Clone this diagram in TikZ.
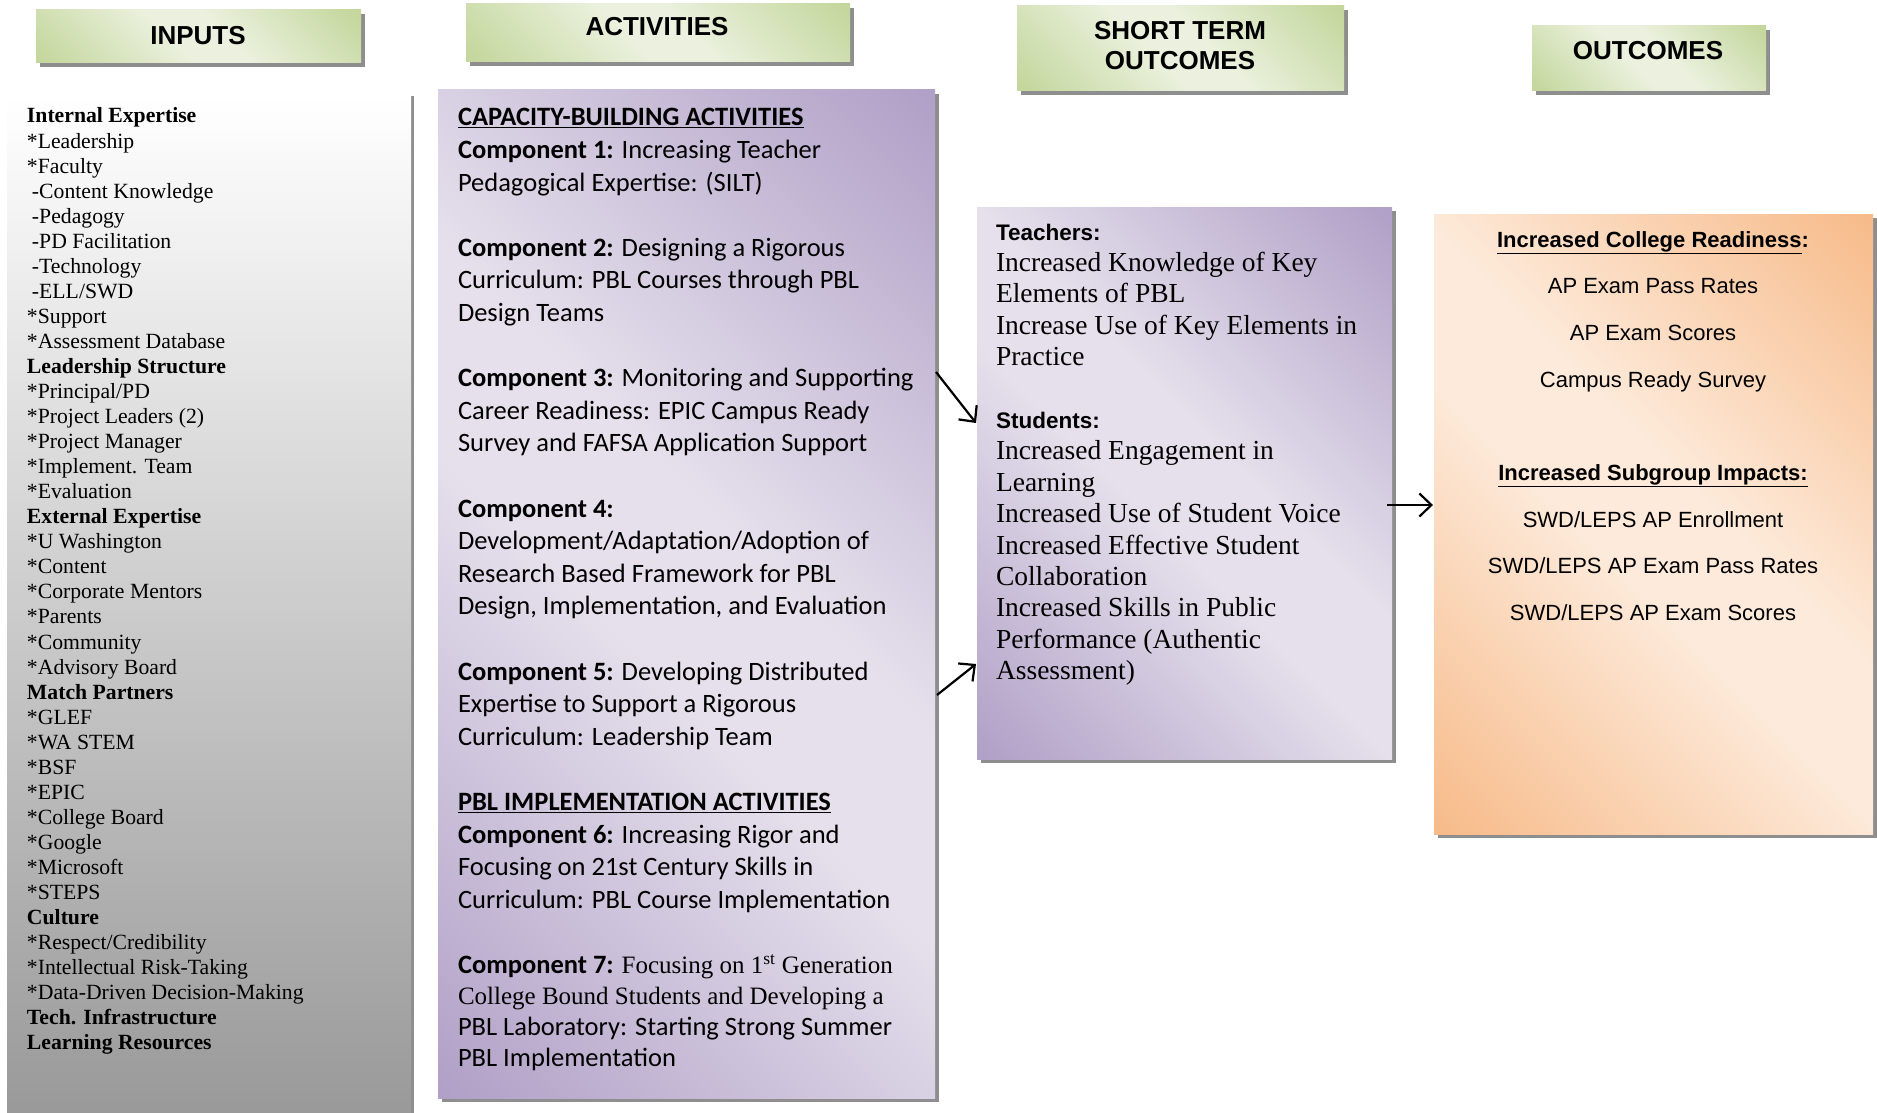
\documentclass[tikz,border=0pt]{standalone}
\usepackage{fontspec}
\setmainfont{Liberation Serif}
\newfontfamily\arialf{Liberation Sans}
\newfontfamily\calf{Carlito}
\usetikzlibrary{calc,shadows,arrows.meta}

\definecolor{gLight}{HTML}{EBF1DE}
\definecolor{gDark}{HTML}{C3D69B}
\definecolor{pLight}{HTML}{E5E0EC}
\definecolor{pDark}{HTML}{B1A0C7}
\definecolor{oLight}{HTML}{FDEADA}
\definecolor{oDark}{HTML}{F7BB8A}
\definecolor{inGray}{HTML}{979797}
\definecolor{shGray}{HTML}{8E8E8E}

\pgfdeclarehorizontalshading{greendiag}{100bp}{color(0bp)=(gDark); color(15bp)=(gDark); color(45bp)=(gLight); color(55bp)=(gLight); color(85bp)=(gDark); color(100bp)=(gDark)}
\pgfdeclarehorizontalshading{purpdiag}{100bp}{color(0bp)=(pDark); color(15bp)=(pDark); color(45bp)=(pLight); color(55bp)=(pLight); color(85bp)=(pDark); color(100bp)=(pDark)}
\pgfdeclarehorizontalshading{orangediag}{100bp}{color(0bp)=(oDark); color(15bp)=(oDark); color(45bp)=(oLight); color(55bp)=(oLight); color(85bp)=(oDark); color(100bp)=(oDark)}

\tikzset{
  boxbase/.style={inner sep=0pt, outer sep=0pt, anchor=north west, shade, shading angle=45,
    drop shadow={shadow xshift=4pt, shadow yshift=-4pt, fill=shGray, opacity=1}},
  hdbox/.style={boxbase, shading=greendiag},
  panelp/.style={boxbase, shading=purpdiag},
  panelo/.style={boxbase, shading=orangediag},
  inpanel/.style={inner sep=0pt, outer sep=0pt, anchor=north west, top color=white, bottom color=inGray,
    drop shadow={shadow xshift=3pt, shadow yshift=0pt, fill=shGray, opacity=1}},
  hdtext/.style={font=\arialf\bfseries\fontsize{26}{30}\selectfont, align=center, inner sep=0pt},
  txt/.style={anchor=base west, inner sep=0pt, outer sep=0pt},
  conn/.style={line width=2.2pt, -{Straight Barb[length=12pt,width=23pt,line width=2.2pt]}}
}

\begin{document}
\begin{tikzpicture}[x=1pt,y=-1pt]
\useasboundingbox (0,0) rectangle (1877,1113);
\fill[white] (0,0) rectangle (1877,1113);

% header boxes
\node[hdbox, minimum width=325pt, minimum height=53pt] (hin) at (36,10) {};
\node[hdbox, minimum width=384pt, minimum height=58pt] (hact) at (466,4) {};
\node[hdbox, minimum width=327pt, minimum height=85pt] (hsto) at (1017,6) {};
\node[hdbox, minimum width=234pt, minimum height=65pt] (hout) at (1532,26) {};

\node[hdtext] (tin) at (198,36) {INPUTS};
\node[hdtext] (tact) at (657,27) {ACTIVITIES};
\node[hdtext] (tsto) at (1180,46) {SHORT TERM\\OUTCOMES};
\node[hdtext] (tout) at (1648,51) {OUTCOMES};

% panels
\node[inpanel, minimum width=404pt, minimum height=1040pt] (inp) at (7,96) {};
\node[panelp, minimum width=497pt, minimum height=1008pt] (act) at (438,90) {};
\node[panelp, minimum width=415pt, minimum height=552pt] (sto) at (977,207) {};
\node[panelo, minimum width=439pt, minimum height=620pt] (out) at (1434,214) {};

% inputs text
\node[txt] (inptext) at (27,123) {\parbox[t]{380pt}{\fontsize{21.7}{25.05}\selectfont\raggedright
\textbf{Internal Expertise}\\{}
*Leadership\\{}
*Faculty\\
\hspace*{5pt}-Content Knowledge\\
\hspace*{5pt}-Pedagogy\\
\hspace*{5pt}-PD Facilitation\\
\hspace*{5pt}-Technology\\
\hspace*{5pt}-ELL/SWD\\{}
*Support\\{}
*Assessment Database\\
\textbf{Leadership Structure}\\{}
*Principal/PD\\{}
*Project Leaders (2)\\{}
*Project Manager\\{}
*Implement. Team\\{}
*Evaluation\\
\textbf{External Expertise}\\{}
*U Washington\\{}
*Content\\{}
*Corporate Mentors\\{}
*Parents\\{}
*Community\\{}
*Advisory Board\\
\textbf{Match Partners}\\{}
*GLEF\\{}
*WA STEM\\{}
*BSF\\{}
*EPIC\\{}
*College Board\\{}
*Google\\{}
*Microsoft\\{}
*STEPS\\
\textbf{Culture}\\{}
*Respect/Credibility\\{}
*Intellectual Risk-Taking\\{}
*Data-Driven Decision-Making\\
\textbf{Tech. Infrastructure}\\
\textbf{Learning Resources}}};

% activities text
\node[txt] (acttext) at (458,126) {\parbox[t]{470pt}{\calf\fontsize{26.5}{32.6}\selectfont\raggedright
\underline{\textbf{CAPACITY-BUILDING ACTIVITIES}}\\
\textbf{Component 1:} Increasing Teacher\\
Pedagogical Expertise: (SILT)\\[32.6pt]
\textbf{Component 2:} Designing a Rigorous\\
Curriculum: PBL Courses through PBL\\
Design Teams\\[32.6pt]
\textbf{Component 3:} Monitoring and Supporting\\
Career Readiness: EPIC Campus Ready\\
Survey and FAFSA Application Support\\[32.6pt]
\textbf{Component 4:}\\
Development/Adaptation/Adoption of\\
Research Based Framework for PBL\\
Design, Implementation, and Evaluation\\[32.6pt]
\textbf{Component 5:} Developing Distributed\\
Expertise to Support a Rigorous\\
Curriculum: Leadership Team\\[32.6pt]
\underline{\textbf{PBL IMPLEMENTATION ACTIVITIES}}\\
\textbf{Component 6:} Increasing Rigor and\\
Focusing on 21st Century Skills in\\
Curriculum: PBL Course Implementation\\[32.6pt]
\textbf{Component 7:} {\rmfamily\fontsize{25}{30}\selectfont Focusing on 1\textsuperscript{st} Generation}\\[-1.6pt]
{\rmfamily\fontsize{25}{30}\selectfont College Bound Students and Developing a}\\[-1.6pt]
PBL Laboratory: Starting Strong Summer\\[-1.6pt]
PBL Implementation}};

% short term text
\node[txt] (stotext) at (996,240) {\parbox[t]{390pt}{\fontsize{27.5}{31.4}\selectfont\raggedright
{\arialf\bfseries\fontsize{22.5}{31.4}\selectfont Teachers:}\\
Increased Knowledge of Key\\
Elements of PBL\\
Increase Use of Key Elements in\\
Practice\\[31.4pt]
{\arialf\bfseries\fontsize{22.5}{31.4}\selectfont Students:}\\
Increased Engagement in\\
Learning\\
Increased Use of Student Voice\\
Increased Effective Student\\
Collaboration\\
Increased Skills in Public\\
Performance (Authentic\\
Assessment)}};

% outcomes text
\node[anchor=base, inner sep=0pt, outer sep=0pt] (outtext) at (1653,247) {\parbox[t]{430pt}{\arialf\fontsize{22}{46.7}\selectfont\centering
\textbf{\underline{Increased College Readiness}:}\\
AP Exam Pass Rates\\
AP Exam Scores\\
Campus Ready Survey\\[46.7pt]
\textbf{\underline{Increased Subgroup Impacts:}}\\
SWD/LEPS AP Enrollment\\
SWD/LEPS AP Exam Pass Rates\\
SWD/LEPS AP Exam Scores}};

% connectors
\coordinate (a1s) at ($(act.north east)+(1,282)$);
\coordinate (a1e) at ($(sto.north west)+(-1,216)$);
\coordinate (a2s) at ($(act.north east)+(2,605)$);
\coordinate (a2e) at ($(sto.north west)+(-1,457)$);
\coordinate (a3s) at ($(sto.north east)+(-5,298)$);
\coordinate (a3e) at ($(out.north west)+(-1,291)$);
\draw[conn] (a1s) -- (a1e);
\draw[conn] (a2s) -- (a2e);
\draw[conn] (a3s) -- (a3e);
\end{tikzpicture}
\end{document}
